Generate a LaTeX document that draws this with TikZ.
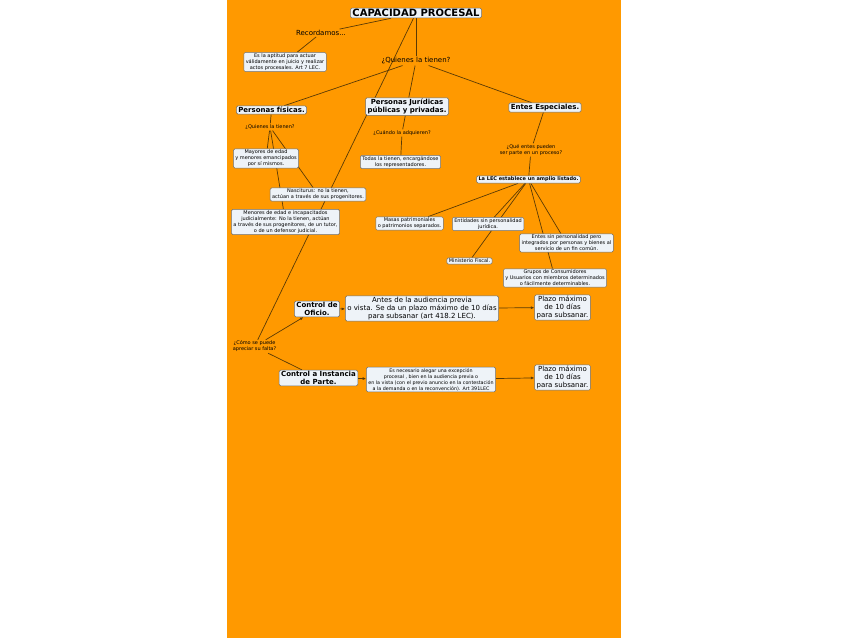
\documentclass[tikz,border=0pt]{standalone}
\usepackage{fontspec}
\setmainfont{DejaVu Sans}
\usepackage{tikz}
\usetikzlibrary{graphs}
\usetikzlibrary{arrows.meta}
\usetikzlibrary{backgrounds}

\definecolor{fondo}{HTML}{FF9900}
\definecolor{caja}{HTML}{EEF3F8}
\definecolor{linea}{HTML}{5A3A05}
\definecolor{borde}{HTML}{6E6E6E}

\begin{document}
\begin{tikzpicture} [x=1pt, y=-1pt, >={Latex[length=3.5pt,width=3pt]},
            box/.style={draw=borde, fill=caja, rounded corners=1.5pt, align=center,
                inner xsep=2pt, inner ysep=1.2pt, line width=0.5pt},
            frase/.style={align=center, inner sep=1pt},
            chico/.style={font=\fontsize{5}{6}\selectfont},
            medio/.style={font=\fontsize{7}{8}\selectfont},
            negrita/.style={font=\fontsize{7}{8}\selectfont\bfseries},
            link/.style={draw=linea, line width=0.7pt}]
            \useasboundingbox (0,0) rectangle (848,638);

            \node[box, font=\fontsize{10}{12}\selectfont\bfseries] (title) at (416,13) {CAPACIDAD PROCESAL};
            \node[frase, medio] (rec) at (321,33) {Recordamos...};
            \node[box, chico] (apt) at (285,62) {Es la aptitud para actuar\\válidamente en juicio y realizar\\actos procesales. Art 7 LEC.};
            \node[frase, medio] (quien) at (416,61) {¿Quienes la tienen?};

            \node[box, negrita] (fis) at (271.5,110) {Personas físicas.};
            \node[box, negrita] (jur) at (407,106.5) {Personas Jurídicas\\públicas y privadas.};
            \node[box, negrita] (esp) at (545,107.5) {Entes Especiales.};

            \node[frase, chico] (quienf) at (270,127) {¿Quienes la tienen?};
            \node[box, chico] (mayores) at (266,158.5) {Mayores de edad\\y menores emancipados\\por sí mismos.};
            \node[box, chico] (nasc) at (318,194.5) {Nasciturus: no la tienen,\\actúan a través de sus progenitores.};
            \node[box, chico] (menores) at (285.5,222) {Menores de edad e incapacitados\\judicialmente: No la tienen, actúan\\a través de sus progenitores, de un tutor,\\o de un defensor judicial.};

            \node[frase, chico] (cuando) at (402,133) {¿Cuándo la adquieren?};
            \node[box, chico] (todas) at (400.5,162) {Todas la tienen, encargándose\\los representadores.};

            \node[frase, chico] (que) at (531,150) {¿Qué entes pueden\\ser parte en un proceso?};
            \node[box, font=\fontsize{5}{6}\selectfont\bfseries] (lec) at (528.5,179.5) {La LEC establece un amplio listado.};
            \node[box, chico] (masas) at (409.5,223.5) {Masas patrimoniales\\o patrimonios separados.};
            \node[box, chico] (entid) at (488,224) {Entidades sin personalidad\\jurídica.};
            \node[box, chico] (entes) at (566.5,243) {Entes sin personalidad pero\\integrados por personas y bienes al\\servicio de un fin común.};
            \node[box, chico] (fiscal) at (469.5,261) {Ministerio Fiscal.};
            \node[box, chico] (grupos) at (555,278) {Grupos de Consumidores\\y Usuarios con miembros determinados\\o fácilmente determinables.};

            \node[frase, chico] (como) at (254.5,346.5) {¿Cómo se puede\\apreciar su falta?};
            \node[box, negrita] (oficio) at (317,309) {Control de\\Oficio.};
            \node[box, medio] (antes) at (422,308.5) {Antes de la audiencia previa\\o vista. Se da un plazo máximo de 10 días\\para subsanar (art 418.2 LEC).};
            \node[box, medio] (plazoa) at (562.5,307.5) {Plazo máximo\\de 10 días\\para subsanar.};
            \node[box, negrita] (parte) at (318.5,378) {Control a Instancia\\de Parte.};
            \node[box, font=\fontsize{4.8}{6}\selectfont] (necesario) at (431,379.5) {Es necesario alegar una excepción\\procesal , bien en la audiencia previa o\\en la vista (con el previo anuncio en la contestación\\a la demanda o en la reconvención). Art 391LEC};
            \node[box, medio] (plazob) at (562.5,377.5) {Plazo máximo\\de 10 días\\para subsanar.};

            \begin{pgfonlayer}{background}
                \fill[fondo] (227,0) rectangle (621,638);
                \graph[edges={link}] {
                    (title) -- (rec) -- (apt);
                    (title) -- (quien);
                    (title) -- (como);
                    (quien) -- (fis) -- (quienf);
                    (quien) -- (jur) -- (cuando) -- (todas);
                    (quien) -- (esp) -- (que) -- (lec);
                    (quienf) -- (mayores);
                    (quienf) -- (nasc);
                    (quienf) -- (menores);
                    (lec) -- (masas);
                    (lec) -- (entid);
                    (lec) -- (fiscal);
                    (lec) -- (entes);
                    (lec) -- (grupos);
                    (como) -> (oficio) -> (antes) -> (plazoa);
                    (como) -- (parte) -> (necesario) -> (plazob);
                };
            \end{pgfonlayer}
        \end{tikzpicture}
\end{document}
